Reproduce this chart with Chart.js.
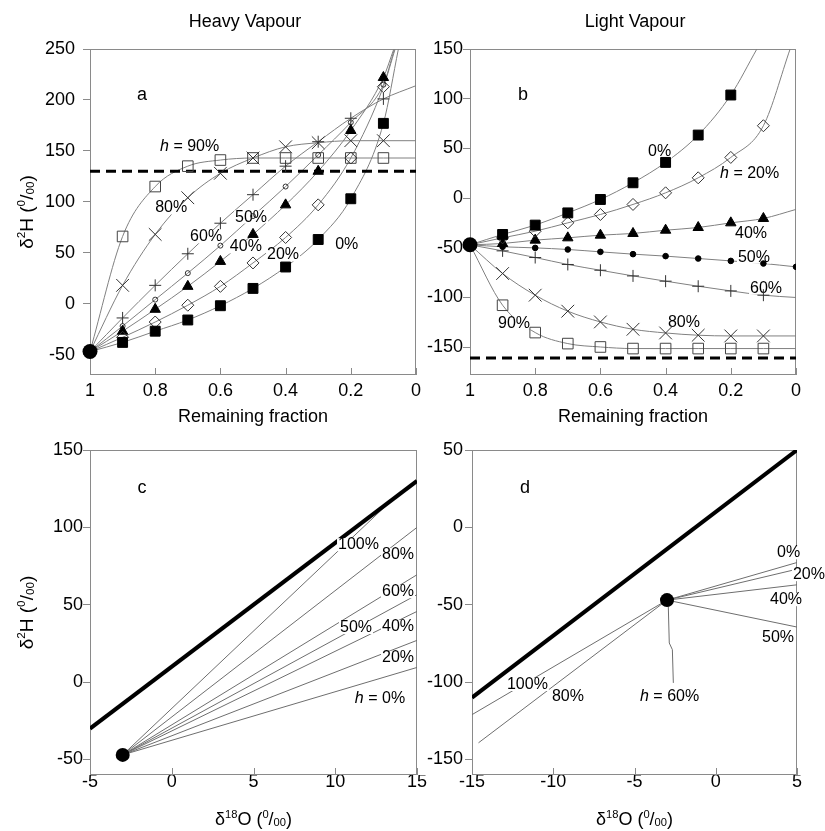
<!DOCTYPE html>
<html>
<head>
<meta charset="utf-8">
<title>Heavy and light vapour</title>
<script src="https://cdn.jsdelivr.net/npm/chart.js@4/dist/chart.umd.min.js"></script>
<style>
  body { margin: 0; background: #fff; }
  #wrap { position: relative; width: 825px; height: 831px; }
  canvas { position: absolute; }
</style>
</head>
<body>
<div id="wrap">
  <canvas id="panelA" width="430" height="432" style="left:0;top:0"></canvas>
  <canvas id="panelB" width="405" height="432" style="left:420px;top:0"></canvas>
  <canvas id="panelC" width="432" height="399" style="left:0;top:432px"></canvas>
  <canvas id="panelD" width="405" height="399" style="left:420px;top:432px"></canvas>
</div>
<script>
var fontFamily = "'Liberation Sans', Arial, Helvetica, sans-serif";

// remaining fraction of the evaporating water
var fractions = [0.9, 0.8, 0.7, 0.6, 0.5, 0.4, 0.3, 0.2, 0.1, 0];
var startFraction = 1;
var startH = -47;
var startO = -3;

// a: delta2H of heavy vapour, one array per humidity h
var heavyH0  = [-38, -27, -16, -2, 15, 36, 63, 103, 177, null];
var heavyH20 = [-33, -18, -1.5, 17, 40, 65, 97, 143, 213, null];
var heavyH40 = [-27, -5.5, 17, 41.5, 68, 97, 130, 170, 222, null];
var heavyH50 = [-22, 4, 30, 57, 86, 115, 146, 178, 215, null];
var heavyH60 = [-14, 18, 49, 79, 107, 135, 159, 182, 201, null];
var heavyH80 = [18, 68, 104, 128, 143, 154, 158, 160, 160, null];
var heavyH90 = [66, 115, 135, 141, 143, 143, 143, 143, 143, null];
// last point of each curve [fraction, delta2H]
var heavyEnd0  = [0.054, 250];
var heavyEnd20 = [0.064, 250];
var heavyEnd40 = [0.068, 250];
var heavyEnd50 = [0.066, 250];
var heavyEnd60 = [0, 214];
var heavyEnd80 = [0, 160];
var heavyEnd90 = [0, 143];
var heavyLimit = 130;

// b: delta2H of light vapour
var lightH0  = [-36.6, -27.2, -14.9, -1.4, 15.4, 35.9, 63.4, 103.7, null, null];
var lightH20 = [-40, -33.3, -24.9, -16.5, -6.4, 5.3, 20.4, 40.9, 72.8, null];
var lightH40 = [-45.7, -42.3, -40, -37.3, -35.6, -32.3, -29.6, -24.9, -20.5, null];
var lightH50 = [-49, -50.1, -51.7, -54.1, -56.4, -58.4, -60.8, -63.2, -65.8, -69.2];
var lightH60 = [-53.1, -59.8, -66.8, -72.6, -78.3, -83.6, -88.7, -93.4, -97.7, null];
var lightH80 = [-75.9, -97.7, -113.8, -124.6, -132, -135.7, -138, -138.7, -138.7, null];
var lightH90 = [-107.8, -135.3, -146.4, -149.8, -151.4, -151.4, -151.4, -151.4, -151.4, null];
var lightEnd0  = [0.12, 150];
var lightEnd20 = [0.018, 150];
var lightEnd40 = [0, -11.4];
var lightEnd60 = [0, -100];
var lightEnd80 = [0, -138.7];
var lightEnd90 = [0, -151.4];
var lightLimit = -161;

// c: heavy vapour paths in the delta18O / delta2H plane
var heavyPathNames = ['100%', '80%', '60%', '50%', '40%', '20%', '0%'];
var heavyPathEndO = [13.2, 15, 15, 15, 15, 15, 15];
var heavyPathEndH = [115, 100, 69.4, 56.5, 45.7, 27, 9.5];
var meteoricO_c = [-5, 15];
var meteoricH_c = [-30, 130];

// d: light vapour paths
var lightPath0O = [-3, 5],    lightPath0H = [-47, -22.7];
var lightPath20O = [-3, 5],   lightPath20H = [-47, -27];
var lightPath40O = [-3, 5],   lightPath40H = [-47, -37.1];
var lightPath50O = [-3, 5],   lightPath50H = [-47, -64.4];
var lightPath60O = [-3, -2.92, -2.86, -2.67, -2.61];
var lightPath60H = [-47, -51.1, -74.7, -79, -100.5];
var lightPath80O = [-3, -14.6], lightPath80H = [-47, -139.2];
var lightPath100O = [-3, -15], lightPath100H = [-47, -121];
var meteoricO_d = [-15, 5];
var meteoricH_d = [-110, 50];

// tick values
var fractionTicks = [1, 0.8, 0.6, 0.4, 0.2, 0];
var heavyTicks = [-50, 0, 50, 100, 150, 200, 250];
var lightTicks = [-150, -100, -50, 0, 50, 100, 150];
var oxygenTicksC = [-5, 0, 5, 10, 15];
var hydrogenTicksC = [-50, 0, 50, 100, 150];
var oxygenTicksD = [-15, -10, -5, 0, 5];
var hydrogenTicksD = [-150, -100, -50, 0, 50];

// curve labels: text, x, y (data units)
var heavyNoteText = ['h = 90%', '80%', '60%', '50%', '40%', '20%', '0%'];
var heavyNoteX = [0.785, 0.80, 0.693, 0.555, 0.571, 0.457, 0.248];
var heavyNoteY = [153.8, 94, 65.5, 85, 55.7, 47.8, 57.7];
var lightNoteText = ['0%', 'h = 20%', '40%', '50%', '60%', '80%', '90%'];
var lightNoteX = [0.454, 0.233, 0.187, 0.178, 0.141, 0.393, 0.914];
var lightNoteY = [46.3, 25.1, -35.3, -59.5, -90.7, -124.9, -125.9];
var pathNoteTextC = ['100%', '80%', '60%', '50%', '40%', '20%', 'h = 0%'];
var pathNoteXC = [10.17, 12.86, 12.86, 10.29, 12.86, 12.86, 11.2];
var pathNoteYC = [88.7, 82.3, 58.4, 35.2, 35.8, 15.8, -10.6];
var pathNoteTextD = ['0%', '20%', '40%', '50%', 'h = 60%', '100%', '80%'];
var pathNoteXD = [3.77, 4.75, 3.34, 2.85, -4.66, -12.85, -10.08];
var pathNoteYD = [-16.5, -30.6, -46.8, -71.3, -109.4, -101.6, -109.4];

var hydrogenTitle = [['δ', ''], ['2', 'sup'], ['H (', ''], ['0', 'sup'], ['/', ''], ['00', 'sub'], [')', '']];
var oxygenTitle = [['δ', ''], ['18', 'sup'], ['O (', ''], ['0', 'sup'], ['/', ''], ['00', 'sub'], [')', '']];

var markerStyles = {
  '0':  { pointStyle: 'rect', pointRadius: 7, pointBackgroundColor: '#000', pointBorderColor: '#000', pointBorderWidth: 1 },
  '20': { pointStyle: 'rectRot', pointRadius: 6, pointBackgroundColor: 'rgba(0,0,0,0)', pointBorderColor: '#333', pointBorderWidth: 1 },
  '40': { pointStyle: 'triangle', pointRadius: 6, pointBackgroundColor: '#000', pointBorderColor: '#000', pointBorderWidth: 1 },
  '50': { pointStyle: 'circle', pointRadius: 2.5, pointBackgroundColor: 'rgba(0,0,0,0)', pointBorderColor: '#333', pointBorderWidth: 1 },
  '50b': { pointStyle: 'circle', pointRadius: 2.8, pointBackgroundColor: '#000', pointBorderColor: '#000', pointBorderWidth: 1 },
  '60': { pointStyle: 'cross', pointRadius: 6, pointBackgroundColor: 'rgba(0,0,0,0)', pointBorderColor: '#333', pointBorderWidth: 1 },
  '80': { pointStyle: 'crossRot', pointRadius: 9, pointBackgroundColor: 'rgba(0,0,0,0)', pointBorderColor: '#333', pointBorderWidth: 1 },
  '90': { pointStyle: 'rect', pointRadius: 7.5, pointBackgroundColor: 'rgba(0,0,0,0)', pointBorderColor: '#444', pointBorderWidth: 1 }
};

function curveSet(values, end) {
  var pts = [{ x: startFraction, y: startH }];
  for (var i = 0; i < fractions.length; i++) {
    if (values[i] !== null) pts.push({ x: fractions[i], y: values[i] });
  }
  if (end) pts.push({ x: end[0], y: end[1] });
  return { data: pts, showLine: true, borderColor: '#808080', borderWidth: 1, pointRadius: 0,
    cubicInterpolationMode: 'monotone', order: 3 };
}

function markerSet(values, key) {
  var pts = [];
  for (var i = 0; i < fractions.length; i++) {
    if (values[i] !== null) pts.push({ x: fractions[i], y: values[i] });
  }
  var ds = { data: pts, showLine: false, order: 1 };
  var st = markerStyles[key];
  for (var k in st) ds[k] = st[k];
  return ds;
}

function pathSet(xs, ys) {
  var pts = xs.map(function (x, i) { return { x: x, y: ys[i] }; });
  return { data: pts, showLine: true, borderColor: '#6e6e6e', borderWidth: 1, pointRadius: 0, tension: 0, order: 3 };
}

function startSet(x, r) {
  return { data: [{ x: x, y: startH }], showLine: false, pointRadius: r, pointBackgroundColor: '#000',
    pointBorderColor: '#000', pointBorderWidth: 0, clip: false, order: 0 };
}

function limitSet(value) {
  return { data: [{ x: 1, y: value }, { x: 0, y: value }], showLine: true, borderColor: '#000', borderWidth: 3,
    borderDash: [10, 6], pointRadius: 0, order: 2 };
}

function meteoricSet(xs, ys) {
  return { data: [{ x: xs[0], y: ys[0] }, { x: xs[1], y: ys[1] }], showLine: true, borderColor: '#000',
    borderWidth: 4, pointRadius: 0, order: 2 };
}

// text with raised / lowered pieces, centred on x, y is the baseline
function drawRich(ctx, parts, x, y, size) {
  var small = size * 0.62;
  var widths = parts.map(function (p) {
    ctx.font = (p[1] ? small : size) + 'px ' + fontFamily;
    return ctx.measureText(p[0]).width;
  });
  var total = widths.reduce(function (a, b) { return a + b; }, 0);
  var cx = x - total / 2;
  ctx.textAlign = 'left';
  ctx.textBaseline = 'alphabetic';
  parts.forEach(function (p, i) {
    var dy = p[1] === 'sup' ? -size * 0.4 : (p[1] === 'sub' ? size * 0.06 : 0);
    ctx.font = (p[1] ? small : size) + 'px ' + fontFamily;
    ctx.fillText(p[0], cx, y + dy);
    cx += widths[i];
  });
}

// curve label, italic h when it starts with "h ="
function drawNote(ctx, text, x, y, size) {
  var head = '', rest = text;
  if (text.indexOf('h = ') === 0) { head = 'h'; rest = text.slice(1); }
  ctx.font = 'italic ' + size + 'px ' + fontFamily;
  var hw = head ? ctx.measureText(head).width : 0;
  ctx.font = size + 'px ' + fontFamily;
  var rw = ctx.measureText(rest).width;
  ctx.fillStyle = '#fff';
  ctx.fillRect(x - 1, y - size * 0.42, hw + rw + 2, size * 0.82);
  ctx.fillStyle = '#000';
  ctx.textBaseline = 'middle';
  ctx.textAlign = 'left';
  if (head) {
    ctx.font = 'italic ' + size + 'px ' + fontFamily;
    ctx.fillText(head, x, y);
  }
  ctx.font = size + 'px ' + fontFamily;
  ctx.fillText(rest, x + hw, y);
}

function panelDecor(p) {
  var notesDone = false;
  return {
    id: 'panelDecor',
    beforeDatasetsDraw: function (chart) {
      notesDone = false;
      var a = chart.chartArea, ctx = chart.ctx;
      ctx.save();
      ctx.strokeStyle = '#8a8a8a';
      ctx.lineWidth = 1;
      ctx.strokeRect(Math.round(a.left) + 0.5, Math.round(a.top) + 0.5,
        Math.round(a.right - a.left) - 1, Math.round(a.bottom - a.top) - 1);
      // x ticks point into the plot
      var xs = chart.scales.x;
      ctx.beginPath();
      p.xTicks.forEach(function (v) {
        var px = Math.round(xs.getPixelForValue(v)) + 0.5;
        ctx.moveTo(px, a.bottom);
        ctx.lineTo(px, a.bottom - 7);
      });
      ctx.stroke();
      ctx.restore();
    },
    beforeDatasetDraw: function (chart, args) {
      if (notesDone || args.meta.order > 1) return;
      notesDone = true;
      var ctx = chart.ctx, xs = chart.scales.x, ys = chart.scales.y;
      ctx.save();
      for (var i = 0; i < p.noteText.length; i++) {
        drawNote(ctx, p.noteText[i], xs.getPixelForValue(p.noteX[i]), ys.getPixelForValue(p.noteY[i]), 16);
      }
      ctx.restore();
    },
    afterDraw: function (chart) {
      var ctx = chart.ctx, a = chart.chartArea;
      var xs = chart.scales.x, ys = chart.scales.y;
      ctx.save();
      ctx.fillStyle = '#000';
      ctx.textBaseline = 'middle';
      ctx.textAlign = 'left';
      ctx.font = '18px ' + fontFamily;
      ctx.fillText(p.letter[0], xs.getPixelForValue(p.letter[1]), ys.getPixelForValue(p.letter[2]));
      if (p.title) {
        ctx.textAlign = 'center';
        ctx.font = '18px ' + fontFamily;
        ctx.fillText(p.title, p.titleX, 22);
      }
      var midX = (a.left + a.right) / 2;
      if (typeof p.xTitle === 'string') {
        ctx.textAlign = 'center';
        ctx.font = '18px ' + fontFamily;
        ctx.fillText(p.xTitle, midX, p.xTitleY);
      } else {
        drawRich(ctx, p.xTitle, midX, p.xTitleY, 18);
      }
      if (p.yTitle) {
        ctx.translate(33, (a.top + a.bottom) / 2);
        ctx.rotate(-Math.PI / 2);
        drawRich(ctx, p.yTitle, 0, 0, 19);
      }
      ctx.restore();
    }
  };
}

function makePanel(id, p) {
  return new Chart(document.getElementById(id), {
    type: 'line',
    data: { datasets: p.datasets },
    options: {
      responsive: false,
      animation: false,
      events: [],
      layout: { padding: p.padding },
      plugins: { legend: { display: false }, tooltip: { enabled: false }, title: { display: false } },
      scales: {
        x: {
          type: 'linear', min: p.xMin, max: p.xMax, reverse: !!p.reverse,
          grid: { display: false, drawTicks: false },
          border: { display: false },
          ticks: { color: '#000', font: { family: fontFamily, size: 18, lineHeight: 1 }, padding: p.xPad,
            autoSkip: false, maxRotation: 0, minRotation: 0,
            callback: function (v) { return String(v); } },
          afterBuildTicks: function (s) { s.ticks = p.xTicks.map(function (v) { return { value: v }; }); },
          afterFit: function (s) { s.height = p.xHeight; s.paddingLeft = 0; s.paddingRight = 0; }
        },
        y: {
          type: 'linear', min: p.yMin, max: p.yMax,
          grid: { drawOnChartArea: false, drawTicks: true, tickLength: 7, color: '#8a8a8a' },
          border: { display: false },
          ticks: { color: '#000', font: { family: fontFamily, size: 18 }, padding: p.yPad,
            callback: function (v) { return String(v); } },
          afterBuildTicks: function (s) { s.ticks = p.yTicks.map(function (v) { return { value: v }; }); },
          afterFit: function (s) { s.width = p.yWidth; s.paddingTop = 0; s.paddingBottom = 0; }
        }
      }
    },
    plugins: [panelDecor(p)]
  });
}

// a: heavy vapour
makePanel('panelA', {
  xMin: 0, xMax: 1, reverse: true, yMin: -70, yMax: 250,
  xTicks: fractionTicks, yTicks: heavyTicks,
  padding: { left: 0, top: 49, right: 14, bottom: 0 }, yWidth: 90, xHeight: 57, xPad: 7, yPad: 8,
  title: 'Heavy Vapour', titleX: 245, xTitle: 'Remaining fraction', xTitleY: 417, yTitle: hydrogenTitle,
  letter: ['a', 0.856, 204.9],
  noteText: heavyNoteText, noteX: heavyNoteX, noteY: heavyNoteY,
  datasets: [
    startSet(startFraction, 7.5),
    markerSet(heavyH0, '0'), markerSet(heavyH20, '20'), markerSet(heavyH40, '40'), markerSet(heavyH50, '50'),
    markerSet(heavyH60, '60'), markerSet(heavyH80, '80'), markerSet(heavyH90, '90'),
    limitSet(heavyLimit),
    curveSet(heavyH0, heavyEnd0), curveSet(heavyH20, heavyEnd20), curveSet(heavyH40, heavyEnd40),
    curveSet(heavyH50, heavyEnd50), curveSet(heavyH60, heavyEnd60), curveSet(heavyH80, heavyEnd80),
    curveSet(heavyH90, heavyEnd90)
  ]
});

// b: light vapour
makePanel('panelB', {
  xMin: 0, xMax: 1, reverse: true, yMin: -178, yMax: 150,
  xTicks: fractionTicks, yTicks: lightTicks,
  padding: { left: 0, top: 49, right: 29, bottom: 0 }, yWidth: 50, xHeight: 57, xPad: 7, yPad: 0,
  title: 'Light Vapour', titleX: 215, xTitle: 'Remaining fraction', xTitleY: 417, yTitle: null,
  letter: ['b', 0.853, 103.7],
  noteText: lightNoteText, noteX: lightNoteX, noteY: lightNoteY,
  datasets: [
    startSet(startFraction, 7.5),
    markerSet(lightH0, '0'), markerSet(lightH20, '20'), markerSet(lightH40, '40'), markerSet(lightH50, '50b'),
    markerSet(lightH60, '60'), markerSet(lightH80, '80'), markerSet(lightH90, '90'),
    limitSet(lightLimit),
    curveSet(lightH0, lightEnd0), curveSet(lightH20, lightEnd20), curveSet(lightH40, lightEnd40),
    curveSet(lightH50, null), curveSet(lightH60, lightEnd60), curveSet(lightH80, lightEnd80),
    curveSet(lightH90, lightEnd90)
  ]
});

// c: heavy vapour against the meteoric water line
var heavyPaths = heavyPathNames.map(function (name, i) {
  return pathSet([startO, heavyPathEndO[i]], [startH, heavyPathEndH[i]]);
});
makePanel('panelC', {
  xMin: -5, xMax: 15, yMin: -60, yMax: 150,
  xTicks: oxygenTicksC, yTicks: hydrogenTicksC,
  padding: { left: 0, top: 18, right: 15, bottom: 0 }, yWidth: 90, xHeight: 56, xPad: -2, yPad: 0,
  title: null, xTitle: oxygenTitle, xTitleY: 393, yTitle: hydrogenTitle,
  letter: ['c', -2.1, 125.5],
  noteText: pathNoteTextC, noteX: pathNoteXC, noteY: pathNoteYC,
  datasets: [startSet(startO, 7), meteoricSet(meteoricO_c, meteoricH_c)].concat(heavyPaths)
});

// d: light vapour against the meteoric water line
makePanel('panelD', {
  xMin: -15, xMax: 5, yMin: -160, yMax: 50,
  xTicks: oxygenTicksD, yTicks: hydrogenTicksD,
  padding: { left: 0, top: 18, right: 28, bottom: 0 }, yWidth: 52, xHeight: 56, xPad: -2, yPad: 2,
  title: null, xTitle: oxygenTitle, xTitleY: 393, yTitle: null,
  letter: ['d', -12.05, 25.5],
  noteText: pathNoteTextD, noteX: pathNoteXD, noteY: pathNoteYD,
  datasets: [
    startSet(startO, 7), meteoricSet(meteoricO_d, meteoricH_d),
    pathSet(lightPath0O, lightPath0H), pathSet(lightPath20O, lightPath20H), pathSet(lightPath40O, lightPath40H),
    pathSet(lightPath50O, lightPath50H), pathSet(lightPath60O, lightPath60H), pathSet(lightPath80O, lightPath80H),
    pathSet(lightPath100O, lightPath100H)
  ]
});
</script>
</body>
</html>
